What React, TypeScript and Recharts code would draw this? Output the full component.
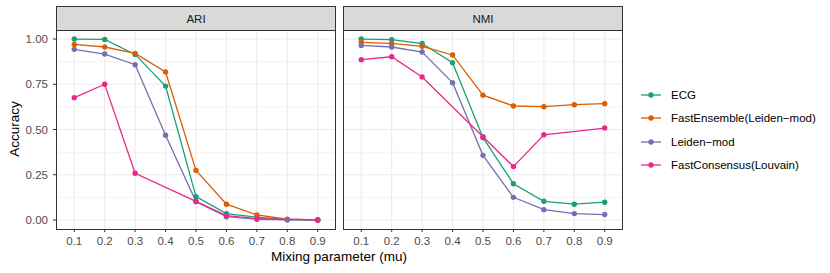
import { LineChart, Line, XAxis, YAxis, CartesianGrid } from 'recharts';

const muLevels = [0.1, 0.2, 0.3, 0.4, 0.5, 0.6, 0.7, 0.8, 0.9];

const ariECG = [1.0, 0.998, 0.915, 0.74, 0.129, 0.035, 0.015, 0.002, 0.0];
const ariFastEnsemble = [0.97, 0.956, 0.921, 0.818, 0.274, 0.087, 0.028, 0.004, 0.0];
const ariLeiden = [0.943, 0.917, 0.858, 0.468, 0.1, 0.018, 0.004, 0.0, 0.0];
const ariFastConsensus = [0.676, 0.75, 0.258, null, 0.103, 0.024, 0.007, null, 0.0];

const nmiECG = [1.0, 0.997, 0.975, 0.869, 0.455, 0.2, 0.103, 0.087, 0.098];
const nmiFastEnsemble = [0.982, 0.976, 0.96, 0.912, 0.69, 0.63, 0.626, 0.637, 0.643];
const nmiLeiden = [0.965, 0.956, 0.928, 0.759, 0.357, 0.125, 0.057, 0.035, 0.03];
const nmiFastConsensus = [0.886, 0.902, 0.79, null, 0.46, 0.295, 0.471, null, 0.508];

const yTicks = [0, 0.25, 0.5, 0.75, 1.0];
const yMinor = [0.125, 0.375, 0.625, 0.875];

const seriesNames = ['ECG', 'FastEnsemble(Leiden\u2212mod)', 'Leiden\u2212mod', 'FastConsensus(Louvain)'];
const seriesKeys = ['ecg', 'fe', 'leiden', 'fc'];
const COLORS = ['#1B9E77', '#D95F02', '#7570B3', '#E7298A'];

const FONT = '"Liberation Sans", Arial, sans-serif';

function buildRows(a: (number | null)[], b: (number | null)[], c: (number | null)[], d: (number | null)[]) {
  return muLevels.map((mu, i) => ({ mu, ecg: a[i], fe: b[i], leiden: c[i], fc: d[i] }));
}

const ariRows = buildRows(ariECG, ariFastEnsemble, ariLeiden, ariFastConsensus);
const nmiRows = buildRows(nmiECG, nmiFastEnsemble, nmiLeiden, nmiFastConsensus);

const tickStyle = { fill: '#4D4D4D', fontSize: 11.5, fontFamily: FONT };

function Panel({ rows, showY, left, width }: { rows: any[]; showY: boolean; left: number; width: number }) {
  return (
    <div style={{ position: 'absolute', left, top: 30 }}>
      <LineChart width={width} height={243} data={rows} margin={{ top: 0, right: 0, bottom: 0, left: 0 }}>
        <CartesianGrid horizontalValues={yMinor} vertical={false} stroke="#EBEBEB" strokeWidth={0.6} strokeDasharray="" />
        <CartesianGrid horizontalValues={yTicks} verticalValues={muLevels} stroke="#EBEBEB" strokeWidth={1.1} strokeDasharray="" />
        <XAxis
          dataKey="mu"
          type="number"
          domain={[0.04, 0.96]}
          ticks={muLevels}
          tickFormatter={(v: number) => v.toFixed(1)}
          axisLine={false}
          tickLine={{ stroke: '#333333' }}
          tickSize={3}
          tickMargin={5}
          height={44}
          tick={tickStyle}
          interval={0}
        />
        <YAxis
          type="number"
          domain={[-0.05, 1.05]}
          ticks={yTicks}
          tickFormatter={(v: number) => v.toFixed(2)}
          axisLine={false}
          tickLine={{ stroke: '#333333' }}
          tickSize={3}
          tickMargin={5}
          width={56}
          hide={!showY}
          tick={tickStyle}
          interval={0}
        />
        {seriesKeys.map((k, i) => (
          <Line
            key={k}
            dataKey={k}
            stroke={COLORS[i]}
            strokeWidth={1.3}
            dot={{ r: 2.7, fill: COLORS[i], stroke: COLORS[i], strokeWidth: 0 }}
            activeDot={false}
            connectNulls
            isAnimationActive={false}
          />
        ))}
      </LineChart>
    </div>
  );
}

function Frame({ left, width, label }: { left: number; width: number; label: string }) {
  return (
    <>
      <div
        style={{
          position: 'absolute', left, top: 6, width, height: 25, boxSizing: 'border-box',
          background: '#D9D9D9', border: '1px solid #333333', display: 'flex', alignItems: 'center',
          justifyContent: 'center', fontFamily: FONT, fontSize: 11.5, color: '#1A1A1A',
        }}
      >
        {label}
      </div>
      <div
        style={{
          position: 'absolute', left, top: 30, width, height: 200, boxSizing: 'border-box',
          border: '1px solid #333333', pointerEvents: 'none',
        }}
      />
    </>
  );
}

export default function App() {
  return (
    <div style={{ position: 'absolute', left: 0, top: 0, width: 830, height: 273, background: '#fff', overflow: 'hidden' }}>
      <Panel rows={ariRows} showY left={0} width={336} />
      <Panel rows={nmiRows} showY={false} left={343} width={280} />
      <Frame left={56} width={280} label="ARI" />
      <Frame left={343} width={280} label="NMI" />

      <div
        style={{
          position: 'absolute', left: 14, top: 129, transform: 'translate(-50%, -50%) rotate(-90deg)',
          fontFamily: FONT, fontSize: 13.5, color: '#000', whiteSpace: 'nowrap',
        }}
      >
        Accuracy
      </div>
      <div
        style={{
          position: 'absolute', left: 339, top: 256, transform: 'translate(-50%, -50%)',
          fontFamily: FONT, fontSize: 13.5, color: '#000', whiteSpace: 'nowrap',
        }}
      >
        Mixing parameter (mu)
      </div>

      {seriesNames.map((name, i) => (
        <div
          key={name}
          style={{ position: 'absolute', left: 640, top: [95, 118, 142, 165][i] - 9, height: 18, display: 'flex', alignItems: 'center' }}
        >
          <svg width={22} height={18}>
            <line x1={1} x2={21} y1={9} y2={9} stroke={COLORS[i]} strokeWidth={1.3} />
            <circle cx={11} cy={9} r={2.7} fill={COLORS[i]} />
          </svg>
          <span style={{ marginLeft: 9, fontFamily: FONT, fontSize: 11.5, color: '#000', whiteSpace: 'nowrap' }}>{name}</span>
        </div>
      ))}
    </div>
  );
}
